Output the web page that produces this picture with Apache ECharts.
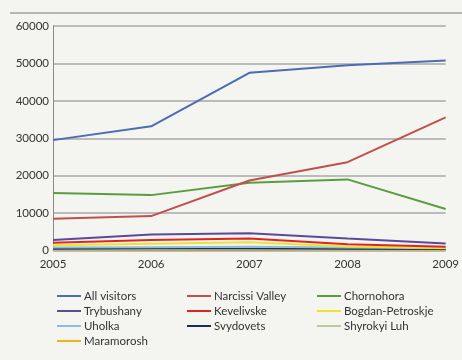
<!DOCTYPE html>
<html><head><meta charset="utf-8">
<script src="https://cdn.jsdelivr.net/npm/echarts@6/dist/echarts.min.js"></script>
<style>html,body{margin:0;padding:0;background:#f4f4f1;}#c{width:462px;height:360px;}</style>
</head><body><div id="c"></div>
<script>
const years = ['2005','2006','2007','2008','2009'];
const seriesNames = ['All visitors','Narcissi Valley','Chornohora','Trybushany','Kevelivske','Bogdan-Petroskje','Uholka','Svydovets','Shyrokyi Luh','Maramorosh'];
const allVisitors = [29500, 33200, 47500, 49500, 50800];
const narcissiValley = [8500, 9200, 18700, 23600, 35600];
const chornohora = [15400, 14800, 18100, 19000, 11100];
const trybushany = [2800, 4300, 4600, 3200, 1900];
const kevelivske = [2100, 2800, 3200, 1700, 1000];
const bogdanPetroskje = [1400, 1800, 2200, 1100, 700];
const uholka = [800, 900, 1000, 800, 600];
const svydovets = [500, 600, 600, 500, 400];
const shyrokyiLuh = [300, 400, 400, 300, 300];
const maramorosh = [200, 300, 300, 200, 200];
const yTicks = [0, 10000, 20000, 30000, 40000, 50000, 60000];

const values = [allVisitors, narcissiValley, chornohora, trybushany, kevelivske, bogdanPetroskje, uholka, svydovets, shyrokyiLuh, maramorosh];
const colors = ['#4a6db4','#c0504d','#5b9d3c','#5a4a9c','#e02424','#f2e22a','#8cbce2','#1f2d4d','#b9cc9a','#f0b31c'];

const chart = echarts.init(document.getElementById('c'));
const font = 'Lato, Open Sans, sans-serif';
const legendBase = {orient:'vertical', icon:'rect', itemWidth:24, itemHeight:2, itemGap:3, height:80, padding:0,
  textStyle:{fontFamily:font, fontSize:11.5, color:'#333', padding:[0,0,0,-2]}, selectedMode:false};
chart.setOption({
  backgroundColor:'#f4f4f1',
  animation:false,
  color: colors,
  grid:{left:53, right:15, top:26, bottom:109.5},
  xAxis:{type:'category', data:years, boundaryGap:false,
    axisLine:{lineStyle:{color:'#8a8a8a', width:1}}, axisTick:{show:false},
    axisLabel:{fontFamily:font, fontSize:11.5, color:'#333', margin:8}},
  yAxis:{type:'value', min:yTicks[0], max:yTicks[yTicks.length-1], interval:10000,
    axisLine:{show:true, lineStyle:{color:'#8a8a8a'}}, axisTick:{show:false},
    splitLine:{lineStyle:{color:'#a8a8a8', width:1.5}},
    axisLabel:{fontFamily:font, fontSize:11.5, color:'#333', margin:4, formatter: v => String(v)}},
  legend:[
    Object.assign({left:57, top:290, data:[seriesNames[0],seriesNames[3],seriesNames[6],seriesNames[9]]}, legendBase),
    Object.assign({left:187, top:290, data:[seriesNames[1],seriesNames[4],seriesNames[7]]}, legendBase),
    Object.assign({left:317, top:290, data:[seriesNames[2],seriesNames[5],seriesNames[8]]}, legendBase)
  ],
  graphic:[{type:'line', shape:{x1:10,y1:13,x2:462,y2:13}, style:{stroke:'#a0a0a0', lineWidth:1.5}}],
  series: seriesNames.map((n,i)=>({name:n, type:'line', data:values[i], showSymbol:false, symbol:'none',
    lineStyle:{width:2}, z: 10 - i}))
});
</script></body></html>
